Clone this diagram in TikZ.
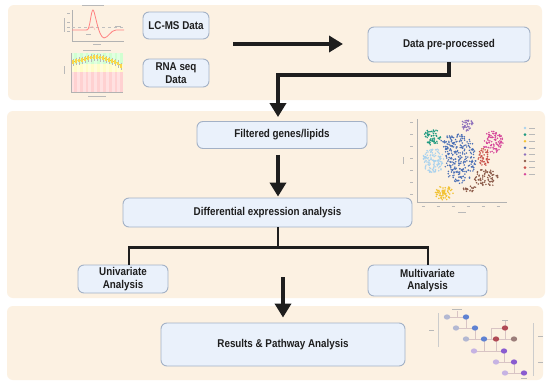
\documentclass[tikz,border=0pt]{standalone}
\usepackage{fontspec}
\setmainfont{Liberation Sans}
\newfontfamily\boxfont{Liberation Sans}[FakeStretch=0.87]
\usetikzlibrary{arrows.meta,calc}
\definecolor{panelbg}{HTML}{FCF1E2}
\definecolor{boxfill}{HTML}{EAF1FB}
\definecolor{boxdraw}{HTML}{A3B1C6}
\definecolor{ink}{HTML}{1E1E1E}
\definecolor{cteal}{HTML}{1F9A80}
\definecolor{clblue}{HTML}{A9D2EE}
\definecolor{cyellow}{HTML}{F2C232}
\definecolor{cblue}{HTML}{4A6FB5}
\definecolor{cpurple}{HTML}{8E70BC}
\definecolor{cpink}{HTML}{D6469A}
\definecolor{cred}{HTML}{C9524A}
\definecolor{cbrown}{HTML}{8B5A48}
\definecolor{pwline}{HTML}{D8C4C4}
\definecolor{pwgray}{HTML}{B3B8D2}
\definecolor{pwblue}{HTML}{5F82D2}
\definecolor{pwred}{HTML}{B04A55}
\definecolor{pwbrown}{HTML}{9C7E7A}
\definecolor{pwpurple}{HTML}{8A5CD0}
\definecolor{pwlpurple}{HTML}{C6B3E3}
\newcommand\mycluster[6]{%
  \foreach \i in {1,...,#6}{%
    \pgfmathsetmacro\myang{rnd*360}%
    \pgfmathsetmacro\myrad{sqrt(rnd)}%
    \fill[#1] ({#2+#4*\myrad*cos(\myang)},{#3+#5*\myrad*sin(\myang)}) circle (0.85pt);
  }}
\tikzset{
  panel/.style={fill=panelbg, draw=none, rounded corners=6pt},
  box/.style={fill=boxfill, draw=boxdraw, line width=0.9pt, rounded corners=6pt,
    font=\boxfont\bfseries\fontsize{11.3}{12.5}\selectfont, text=ink, align=center, inner sep=0pt},
  arr/.style={draw=ink, line width=3.8pt, -{Triangle[width=16pt,length=14pt]}},
  branch/.style={draw=ink, line width=2.2pt},
  tinyline/.style={gray!55, line width=0.6pt},
  axisline/.style={gray!60, line width=0.45pt},
}
\begin{document}
\begin{tikzpicture}[x=1pt,y=-1pt]
\fill[white] (0,0) rectangle (550,386);
\useasboundingbox (0,0) rectangle (550,386);
% panels
\fill[panel] (8,5) rectangle (542,100);
\fill[panel] (7,111) rectangle (545,298);
\fill[panel] (7,306) rectangle (543,380);

% ---- chart 1 (LC-MS) ----
\draw[tinyline] (82,5) -- (104,5);
\draw[axisline] (72,10) -- (72,41) -- (124,41);
\foreach \yy in {13,22,27,31} \draw[tinyline,line width=0.4pt] (67,\yy) -- (70,\yy);
\draw[tinyline,line width=0.4pt] (64,18) -- (64,32);
\draw[gray!50, dashed, line width=0.3pt] (72,27) -- (124,27);
\draw[red!35, line width=0.4pt] (86,30) .. controls (89,30) and (92,22) .. (95,30);
\draw[red!50, line width=0.8pt] (72,30) -- (87,30) .. controls (90,30) and (91,10) .. (93,10)
   .. controls (95,10) and (98,37) .. (104,38) .. controls (108,38) and (111,30) .. (116,30) -- (124,30);
\draw[tinyline,line width=0.4pt] (93,44) -- (101,44);
\draw[tinyline,line width=0.4pt] (115,26) -- (121,26);
\draw[tinyline,line width=0.4pt] (86,34) -- (91,34);

% ---- chart 2 (RNA quality) ----
\draw[tinyline] (83,50) -- (111,50);
\fill[green!18!white] (71,53) rectangle (123,64);
\fill[yellow!22!white] (71,64) rectangle (123,72);
\fill[red!18!white] (71,72) rectangle (123,92);
\foreach \k in {0,...,8} \fill[white,opacity=0.35] ({71+\k*5.8},53) rectangle ({71+\k*5.8+2.9},92);
\draw[axisline] (71,53) -- (71,92) -- (123,92);
\draw[tinyline,line width=0.4pt] (64,66) -- (64,74);
\draw[tinyline,line width=0.4pt] (88,96) -- (106,96);
\draw[olive!50!yellow, line width=0.4pt] (73,62) -- (76,61) -- (79,60.5) -- (82,60) -- (85,59) -- (88,58) -- (91,57.5) -- (94,57)
  -- (97,57) -- (100,57.5) -- (103,58) -- (106,59) -- (109,60) -- (112,61) -- (115,62) -- (118,63.5) -- (121,66);
\foreach \px/\py in {73/62,76/61,79/60.5,82/60,85/59,88/58,91/57.5,94/57,97/57,100/57.5,103/58,106/59,109/60,112/61,115/62,118/63.5,121/66}
  {\draw[gray!55, line width=0.3pt] (\px,\py-3.5) -- (\px,\py+4);
   \fill[yellow!60!orange!70!white] (\px-1.1,\py-1.6) rectangle (\px+1.1,\py+1.6);}

% ---- scatter (t-SNE) ----
\draw[axisline] (417,119) -- (417,202) -- (507,202);
\foreach \yy in {122,134,146,158,170,182,194} \draw[tinyline,line width=0.4pt] (410,\yy) -- (413,\yy);
\foreach \xx in {423,438,453,468,483,498} \draw[tinyline,line width=0.4pt] (\xx-1.5,206) -- (\xx+1.5,206);
\draw[tinyline,line width=0.4pt] (403,157) -- (403,164);
\draw[tinyline,line width=0.4pt] (458,212) -- (466,212);
\pgfmathsetseed{11}
\mycluster{cteal}{432}{137}{9}{8}{65}
\mycluster{clblue}{433}{161}{11}{13}{120}
\mycluster{cyellow}{444}{193}{9}{7}{70}
\mycluster{cblue}{460}{159}{16}{25}{240}
\mycluster{cblue}{448}{142}{7}{9}{35}
\mycluster{cpurple}{467}{125}{6}{6}{40}
\mycluster{cpink}{493}{142}{10}{11}{95}
\mycluster{cred}{484}{157}{6}{9}{50}
\mycluster{cbrown}{486}{178}{12}{9}{80}
\mycluster{cbrown}{470}{189}{7}{3}{20}
\foreach \c [count=\k from 0] in {clblue,cteal,cyellow,cblue,cpurple,cbrown,cred,cpink}
  {\fill[\c] (525,{128+6.6*\k}) circle (1.4pt);
   \draw[tinyline,line width=0.4pt] (529,{128+6.6*\k}) -- (535,{128+6.6*\k});}

% ---- pathway ----
\begin{scope}[pwline, line width=0.5pt]
\draw (447,317) -- (466,317); \draw (457,311) -- (457,317);
\draw (466,317) -- (466,328); \draw (456,328) -- (475,328);
\draw (475,328) -- (475,339); \draw (466,339) -- (514,339);
\draw (505,328) -- (491,328) -- (491,339);
\draw (505,321) -- (505,328);
\draw (505,328) -- (505,339);
\draw (484,339) -- (484,351); \draw (474,351) -- (504,351);
\draw (496,339) -- (496,351);
\draw (504,351) -- (504,362); \draw (496,362) -- (514,362);
\draw (514,362) -- (514,373); \draw (505,373) -- (524,373);
\end{scope}
\draw[gray!40, line width=0.5pt] (438,313) -- (438,347);
\draw[gray!40, line width=0.5pt] (533,323) -- (533,376);
\draw[tinyline,line width=0.4pt] (429,330) -- (434,330);
\draw[tinyline,line width=0.4pt] (538,336) -- (543,336);
\draw[tinyline,line width=0.4pt] (538,362) -- (543,362);
\draw[tinyline,line width=0.4pt] (452,309) -- (462,309);
\draw[tinyline,line width=0.4pt] (502,320) -- (508,320);
\draw[tinyline,line width=0.4pt] (521,378) -- (527,378);
\foreach \px/\py/\c in {447/317/pwgray,466/317/pwblue,456/328/pwgray,475/328/pwblue,505/328/pwred,
  466/339/pwgray,484/339/pwblue,496/339/pwred,514/339/pwbrown,474/351/pwlpurple,504/351/pwpurple,
  496/362/pwlpurple,514/362/pwpurple,505/373/pwlpurple,524/373/pwpurple}
  \fill[\c] (\px,\py) ellipse (3.2pt and 2.6pt);

% ---- nodes ----
\node[box, minimum width=66pt, minimum height=27pt] (lcms) at (176,25.5) {LC-MS Data};
\node[box, minimum width=66pt, minimum height=28pt] (rna) at (176,73) {RNA seq\\Data};
\node[box, minimum width=162pt, minimum height=35pt] (pre) at (449,44.5) {Data pre-processed};
\node[box, minimum width=170pt, minimum height=27pt] (filt) at (282,135) {Filtered genes/lipids};
\node[box, minimum width=289pt, minimum height=29pt] (diff) at (267.5,212.5) {Differential expression analysis};
\node[box, minimum width=90pt, minimum height=28pt] (uni) at (123,279) {Univariate\\Analysis};
\node[box, minimum width=119pt, minimum height=31pt] (multi) at (427.5,280.5) {Multivariate\\Analysis};
\node[box, minimum width=244pt, minimum height=43pt] (res) at (283,344.5) {Results \& Pathway Analysis};

% ---- connectors ----
\coordinate (h1) at (233,44);
\coordinate (h2) at (343,44);
\draw[arr] (h1) -- (h2);
\coordinate (e1) at (278,75);
\draw[arr, shorten >=4pt] (pre.south) |- (e1) -- (e1 |- filt.north);
\draw[arr, shorten <=6pt, shorten >=1pt] (e1 |- filt.south) -- (e1 |- diff.north);
\coordinate (j) at (278,247.5);
\coordinate (bl) at (129,247.5);
\coordinate (br) at (428,247.5);
\draw[branch] (diff.south -| j) -- (j);
\draw[branch] (uni.north -| bl) -- (bl) -- (br) -- (multi.north -| br);
\coordinate (a1) at (283,277);
\draw[arr, shorten >=5pt] (a1) -- (a1 |- res.north);
\end{tikzpicture}
\end{document}
